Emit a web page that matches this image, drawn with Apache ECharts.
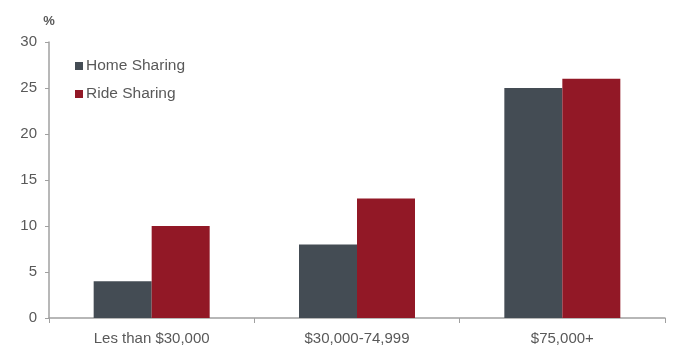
<!DOCTYPE html>
<html><head><meta charset="utf-8">
<script src="https://cdn.jsdelivr.net/npm/echarts@6/dist/echarts.min.js"></script>
<style>html,body{margin:0;padding:0;background:#fff}#c{width:680px;height:357px}</style>
</head><body><div id="c"></div>
<script>
const categories = ["Les than $30,000", "$30,000-74,999", "$75,000+"];
const homeSharing = [4, 8, 25];
const rideSharing = [10, 13, 26];
const yTicks = [0, 5, 10, 15, 20, 25, 30];

const chart = echarts.init(document.getElementById('c'));
const axisColor = '#a0a0a0';
const textColor = '#595959';
chart.setOption({
  animation: false,
  textStyle: { fontFamily: 'Arial, "Liberation Sans", sans-serif' },
  grid: { left: 49, right: 15, top: 42, bottom: 39 },
  legend: {
    orient: 'vertical', left: 70, top: 53, itemGap: 12,
    itemWidth: 8, itemHeight: 8, icon: 'rect',
    textStyle: { fontSize: 15.5, color: textColor, padding: [0, 0, 0, -2] },
    data: ['Home Sharing', 'Ride Sharing']
  },
  xAxis: {
    type: 'category', data: categories,
    axisLine: { lineStyle: { color: axisColor, width: 1.5 } },
    axisTick: { show: true, alignWithLabel: false, length: 5, lineStyle: { color: axisColor } },
    axisLabel: { fontSize: 15, color: textColor, margin: 13 }
  },
  yAxis: {
    type: 'value', min: yTicks[0], max: yTicks[yTicks.length - 1], interval: 5,
    name: '%', nameLocation: 'end', nameGap: 14,
    nameTextStyle: { fontSize: 13, fontWeight: 'bold', color: textColor, align: 'center', padding: [0, 0, 0, 0] },
    splitLine: { show: false },
    axisLine: { show: true, lineStyle: { color: axisColor, width: 1.5 } },
    axisTick: { show: true, length: 4, lineStyle: { color: axisColor } },
    axisLabel: { fontSize: 15, color: textColor, margin: 12 }
  },
  series: [
    { name: 'Home Sharing', type: 'bar', data: homeSharing, barWidth: 58, barGap: '0%',
      itemStyle: { color: '#444c54' } },
    { name: 'Ride Sharing', type: 'bar', data: rideSharing, barWidth: 58, barGap: '0%',
      itemStyle: { color: '#921826' } }
  ]
});
</script></body></html>
